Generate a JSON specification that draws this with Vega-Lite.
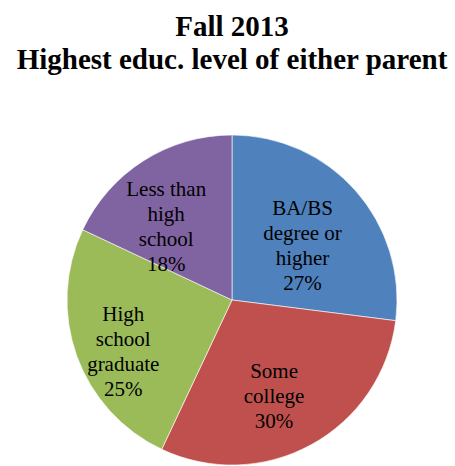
{
  "$schema": "https://vega.github.io/schema/vega-lite/v6.json",
  "width": 330,
  "height": 330,
  "autosize": "none",
  "padding": {"left": 67, "top": 135, "right": 58, "bottom": 1},
  "background": "white",
  "title": {
    "text": ["Fall 2013", "Highest educ. level of either parent"],
    "font": "Liberation Serif",
    "fontSize": 29,
    "fontWeight": "bold",
    "lineHeight": 33,
    "color": "black",
    "anchor": "middle",
    "offset": 59
  },
  "data": {
    "values": [
      {"category": "BA/BS degree or higher", "label": "BA/BS|degree or|higher|27%", "pct": 27, "order": 1},
      {"category": "Some college", "label": "Some|college|30%", "pct": 30, "order": 2},
      {"category": "High school graduate", "label": "High|school|graduate|25%", "pct": 25, "order": 3},
      {"category": "Less than high school", "label": "Less than|high|school|18%", "pct": 18, "order": 4}
    ]
  },
  "encoding": {
    "theta": {"field": "pct", "type": "quantitative", "stack": true},
    "order": {"field": "order", "type": "quantitative"}
  },
  "layer": [
    {
      "mark": {"type": "arc", "outerRadius": 165, "stroke": "white", "strokeWidth": 0.6},
      "encoding": {
        "color": {
          "field": "category",
          "type": "nominal",
          "scale": {
            "domain": ["BA/BS degree or higher", "Some college", "High school graduate", "Less than high school"],
            "range": ["#4F81BD", "#C0504D", "#9BBB59", "#8064A2"]
          },
          "legend": null
        }
      }
    },
    {
      "mark": {
        "type": "text",
        "radius": 106,
        "dx": -9,
        "dy": -21,
        "font": "Liberation Serif",
        "fontSize": 21,
        "lineHeight": 25,
        "lineBreak": "|",
        "align": "center",
        "baseline": "middle",
        "color": "black"
      },
      "encoding": {
        "text": {"field": "label", "type": "nominal"}
      }
    }
  ],
  "config": {"view": {"stroke": null}, "font": "Liberation Serif", "text": {"font": "Liberation Serif"}}
}
